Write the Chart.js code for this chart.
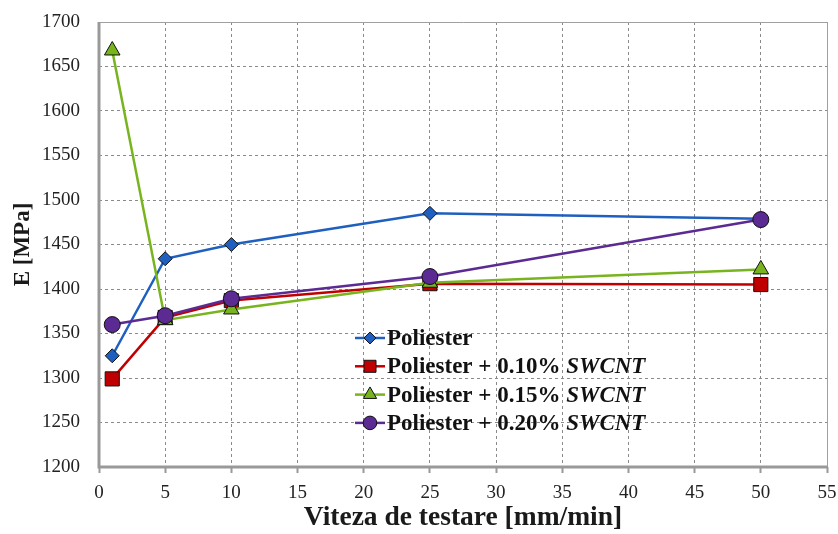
<!DOCTYPE html>
<html>
<head>
<meta charset="utf-8">
<script src="https://cdn.jsdelivr.net/npm/chart.js@4/dist/chart.umd.min.js"></script>
<style>
  html, body { margin: 0; padding: 0; background: #fff; }
  canvas { display: block; }
</style>
</head>
<body>
<canvas id="chart" width="838" height="534"></canvas>
<script>
// Viteza de testare (mm/min) si modulul E (MPa) pentru fiecare serie
const speeds = [1, 5, 10, 25, 50];
const seriesNames = ['Poliester', 'Poliester + 0.10% SWCNT', 'Poliester + 0.15% SWCNT', 'Poliester + 0.20% SWCNT'];
const poliester = [1325, 1434, 1450, 1485, 1479];
const swcnt010 = [1299, 1368, 1387, 1406, 1405];
const swcnt015 = [1668, 1365, 1377, 1407, 1422];
const swcnt020 = [1360, 1370, 1389, 1414, 1478];
const xTicks = { min: 0, max: 55, step: 5 };
const yTicks = { min: 1200, max: 1700, step: 50 };

const serif = '"Liberation Serif", "DejaVu Serif", serif';

function makeSeries(label, values, color, style, radius, order) {
  return {
    label: label,
    data: speeds.map((s, i) => ({ x: s, y: values[i] })),
    borderColor: color,
    backgroundColor: color,
    borderWidth: 2.5,
    pointStyle: style,
    pointRadius: radius,
    pointBackgroundColor: color,
    pointBorderColor: '#111',
    pointBorderWidth: 1,
    tension: 0,
    order: order
  };
}

const datasets = [
  makeSeries(seriesNames[0], poliester, '#1f5fbf', 'rectRot', 7, 4),
  makeSeries(seriesNames[1], swcnt010, '#c00000', 'rect', 10, 3),
  makeSeries(seriesNames[2], swcnt015, '#78b41e', 'triangle', 9, 2),
  makeSeries(seriesNames[3], swcnt020, '#5b2a92', 'circle', 8, 1)
];

// rama zonei de grafic: stanga si jos mai groase
const framePlugin = {
  id: 'frame',
  beforeDatasetsDraw(chart) {
    const { ctx, chartArea: a } = chart;
    ctx.save();
    ctx.strokeStyle = '#a0a0a0';
    ctx.lineWidth = 1;
    ctx.beginPath();
    ctx.moveTo(a.left, a.top + 0.5);
    ctx.lineTo(a.right + 0.5, a.top + 0.5);
    ctx.lineTo(a.right + 0.5, a.bottom);
    ctx.stroke();
    ctx.lineWidth = 3;
    ctx.strokeStyle = '#999';
    ctx.beginPath();
    ctx.moveTo(a.left, a.top);
    ctx.lineTo(a.left, a.bottom);
    ctx.lineTo(a.right + 1, a.bottom);
    ctx.stroke();
    ctx.restore();
  }
};

// legenda desenata in interiorul graficului
const legendPlugin = {
  id: 'innerLegend',
  afterDraw(chart) {
    const { ctx } = chart;
    const x0 = 355, y0 = 338, rowH = 28.3;
    chart.data.datasets.forEach((ds, i) => {
      const y = y0 + i * rowH;
      ctx.save();
      ctx.strokeStyle = ds.borderColor;
      ctx.lineWidth = 2.5;
      ctx.beginPath();
      ctx.moveTo(x0, y);
      ctx.lineTo(x0 + 30, y);
      ctx.stroke();
      ctx.fillStyle = ds.pointBackgroundColor;
      ctx.strokeStyle = ds.pointBorderColor;
      ctx.lineWidth = 1;
      Chart.helpers.drawPoint(ctx, { pointStyle: ds.pointStyle, radius: ds.pointRadius * 0.85, borderWidth: 1 }, x0 + 15, y);
      ctx.fillStyle = '#111';
      ctx.textBaseline = 'middle';
      const m = ds.label.match(/^(.*?)(SWCNT)?$/);
      ctx.font = 'bold 23px ' + serif;
      ctx.fillText(m[1], x0 + 32, y + 1);
      if (m[2]) {
        const w = ctx.measureText(m[1]).width;
        ctx.font = 'italic bold 23px ' + serif;
        ctx.fillText(m[2], x0 + 32 + w, y + 1);
      }
      ctx.restore();
    });
  }
};

new Chart(document.getElementById('chart'), {
  type: 'line',
  data: { datasets: datasets },
  plugins: [framePlugin, legendPlugin],
  options: {
    responsive: false,
    devicePixelRatio: 1,
    animation: false,
    layout: { padding: { top: 22, right: 11, left: 0, bottom: 0 } },
    plugins: { legend: { display: false }, tooltip: { enabled: false } },
    scales: {
      x: {
        type: 'linear',
        min: xTicks.min,
        max: xTicks.max,
        afterFit(s) { s.height = 67; s.paddingLeft = 0; s.paddingRight = 0; },
        ticks: { stepSize: xTicks.step, color: '#222', font: { family: serif, size: 19 }, padding: 9, maxRotation: 0 },
        grid: { color: '#8a8a8a', lineWidth: 1, tickLength: 6, tickColor: '#999', tickWidth: 2 },
        border: { display: false, dash: [3, 3] },
        title: { display: true, text: 'Viteza de testare [mm/min]', color: '#1a1a1a', font: { family: serif, size: 27.5, weight: 'bold' }, padding: { top: 0, bottom: 0 } }
      },
      y: {
        min: yTicks.min,
        max: yTicks.max,
        afterFit(s) { s.width = 99; s.paddingTop = 0; s.paddingBottom = 0; },
        ticks: {
          stepSize: yTicks.step, color: '#222', font: { family: serif, size: 19 }, padding: 19,
          callback: v => String(v)
        },
        grid: { color: '#8a8a8a', lineWidth: 1, drawTicks: false },
        border: { display: false, dash: [3, 3] },
        title: { display: true, text: 'E [MPa]', color: '#1a1a1a', font: { family: serif, size: 23, weight: 'bold' }, padding: { top: 9, bottom: 0 } }
      }
    }
  }
});
</script>
</body>
</html>
